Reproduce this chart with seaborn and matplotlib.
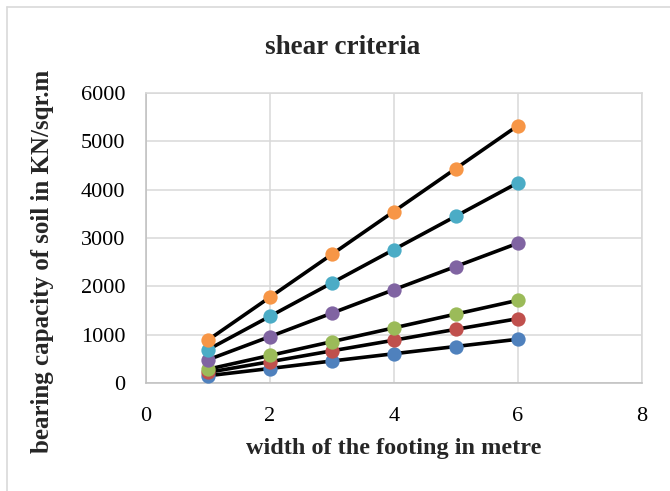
import matplotlib
matplotlib.use("Agg")
import matplotlib.pyplot as plt
import seaborn as sns
import pandas as pd
from matplotlib.lines import Line2D

widths = [1, 2, 3, 4, 5, 6]
series_blue = [150, 300, 455, 605, 755, 905]
series_red = [220, 440, 665, 885, 1110, 1330]
series_green = [285, 570, 855, 1140, 1425, 1710]
series_purple = [480, 960, 1445, 1930, 2410, 2890]
series_cyan = [690, 1380, 2070, 2760, 3450, 4140]
series_orange = [887, 1774, 2661, 3548, 4435, 5322]
series_colors = ["#4F81BD", "#C0504D", "#9BBB59", "#8064A2", "#4BACC6", "#F79646"]
x_ticks = [0, 2, 4, 6, 8]
y_ticks = [0, 1000, 2000, 3000, 4000, 5000, 6000]

sns.set_theme(style="white")
plt.rcParams["font.family"] = ["Liberation Serif", "DejaVu Serif"]

W, H = 670, 491
L, R, T, B = 146, 641.5, 93, 383
fig = plt.figure(figsize=(6.7, 4.91), dpi=100)
ax = fig.add_axes([L / W, 1 - B / H, (R - L) / W, (B - T) / H])

all_series = [series_blue, series_red, series_green, series_purple, series_cyan, series_orange]
for vals, col in zip(all_series, series_colors):
    df = pd.DataFrame({"w": widths, "q": vals})
    sns.lineplot(data=df, x="w", y="q", ax=ax, color="black", linewidth=2.6,
                 marker="o", markersize=10.3, markerfacecolor=col, markeredgecolor=col,
                 markeredgewidth=0, zorder=3)

ax.set_xlim(0, 8)
ax.set_ylim(0, 6000)
ax.set_xticks(x_ticks)
ax.set_yticks(y_ticks)
ax.grid(True, color="#D9D9D9", linewidth=1.1)
ax.set_axisbelow(True)
for s in ax.spines.values():
    s.set_color("#D9D9D9")
    s.set_linewidth(1.1)
ax.spines["bottom"].set_color("#BFBFBF")
ax.spines["left"].set_color("#BFBFBF")
ax.tick_params(axis="x", length=0, labelsize=16, colors="black", pad=17)
ax.tick_params(axis="y", length=0, labelsize=16, colors="black", pad=15)

ax.set_xlabel("width of the footing in metre", fontsize=17.5, fontweight="bold")
ax.set_ylabel("bearing capacity of soil in KN/sqr.m", fontsize=18, fontweight="bold")
ax.xaxis.set_label_coords((394 - L) / (R - L), (B - 438) / (B - T))
ax.yaxis.set_label_coords((54 - L) / (R - L), (B - 261) / (B - T))

fig.text(343 / W, 1 - 47 / H, "shear criteria", fontsize=19.5,
         fontweight="bold", ha="center", va="center")

fig.add_artist(Line2D([7 / W, 7 / W], [0, 1 - 7 / H], color="#D9D9D9", lw=1.2, transform=fig.transFigure))
fig.add_artist(Line2D([7 / W, 1], [1 - 7 / H, 1 - 7 / H], color="#D9D9D9", lw=1.2, transform=fig.transFigure))

fig.savefig("out.png", dpi=100)
